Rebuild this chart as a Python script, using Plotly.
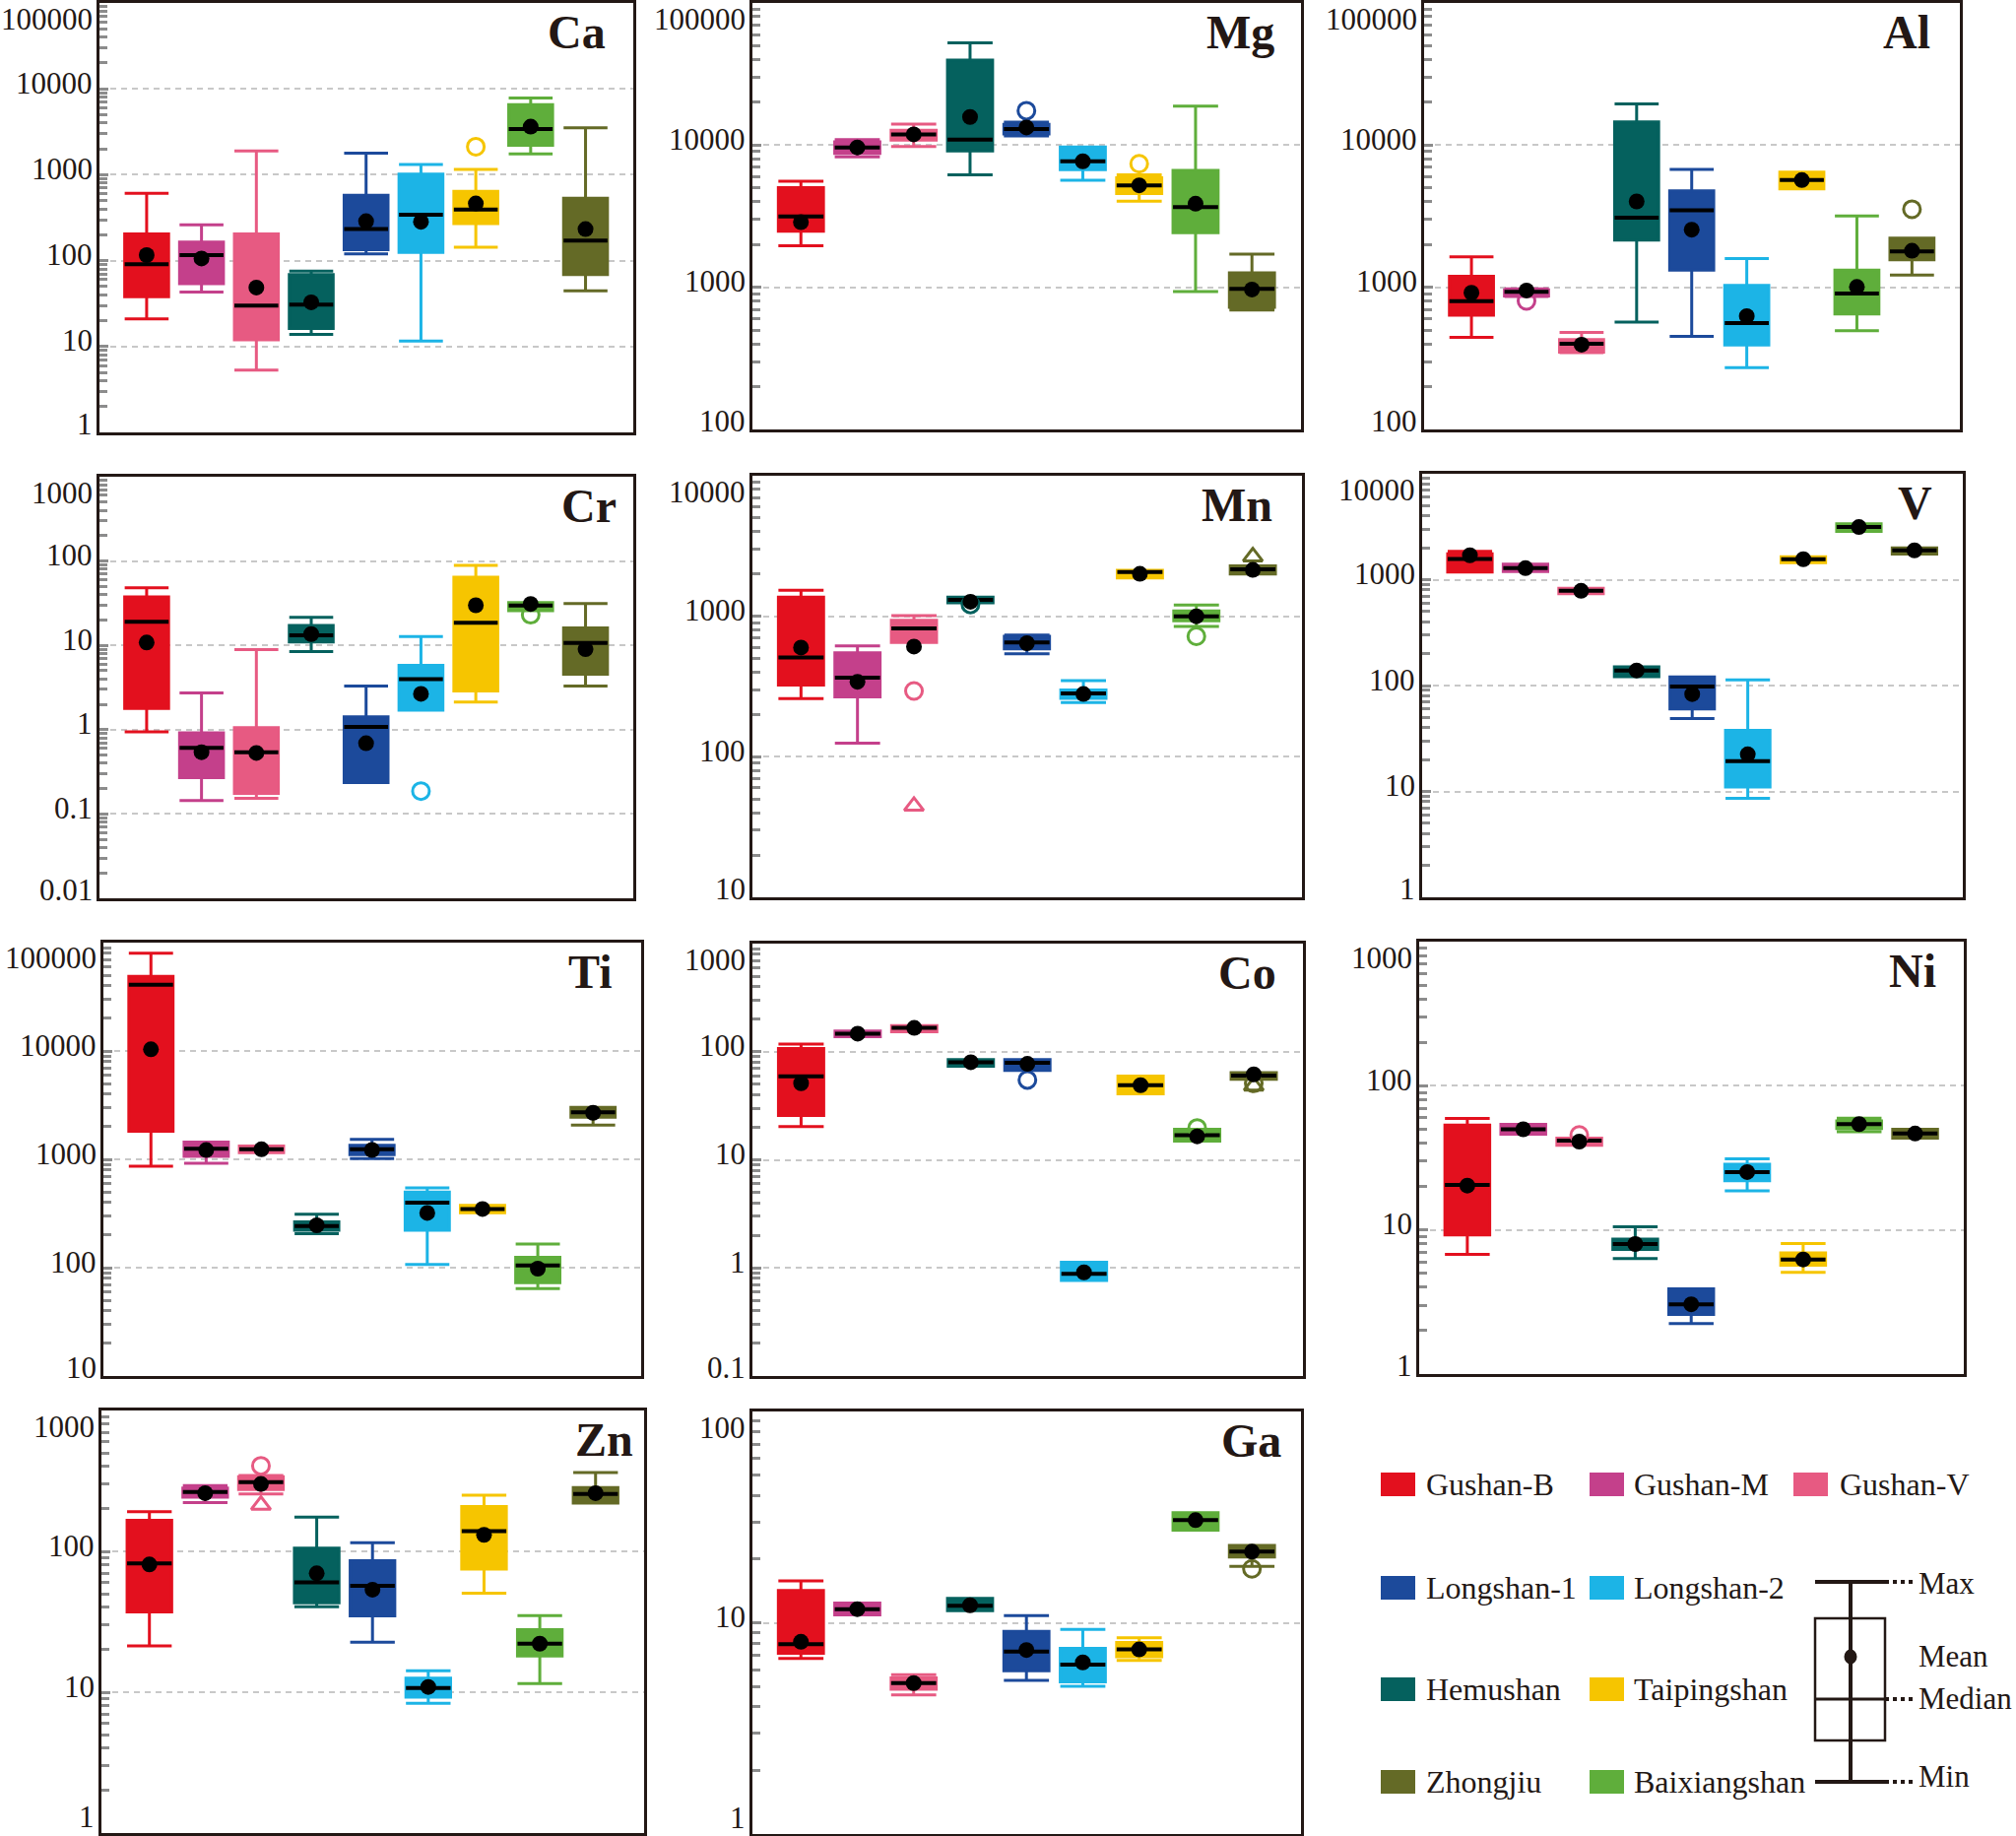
import plotly.graph_objects as go

W, H = 2047, 1864
FONT = "Liberation Serif"
INK = "#231815"

GROUPS = ["Gushan-B", "Gushan-M", "Gushan-V", "Hemushan", "Longshan-1",
          "Longshan-2", "Taipingshan", "Baixiangshan", "Zhongjiu"]
COLORS = ["#E3101E", "#C4408B", "#E75A82", "#05615E", "#1C4A9B",
          "#1CB4E6", "#F6C500", "#5FAE3B", "#646A26"]

# ---- data (min, q1, median, q3, max, mean, outliers) per element ----
CA_MIN = [21, 43, 5.3, 13.8, 120, 11.6, 143, 1750, 44.5]
CA_Q1 = [38, 54, 12, 16.2, 134, 125, 270, 2200, 69]
CA_MED = [91, 116, 30, 30.7, 233, 343, 392, 3415, 171]
CA_Q3 = [204, 164, 204, 69, 577, 1014, 641, 6550, 533]
CA_MAX = [608, 261, 1893, 75.5, 1780, 1320, 1156, 7815, 3508]
CA_MEAN = [116, 106, 48.6, 32.7, 288, 283, 463, 3633, 233]
CA_OUT = [(6, 2120, "circle")]

MG_MIN = [1962, 8260, 9790, 6170, 11600, 5670, 4035, 933, 693]
MG_Q1 = [2477, 8750, 10830, 9090, 12000, 6715, 4560, 2425, 723]
MG_MED = [3145, 9640, 11910, 10940, 13000, 7710, 5210, 3670, 974]
MG_Q3 = [5020, 10550, 12700, 39700, 14000, 9690, 5885, 6650, 1263]
MG_MAX = [5580, 10950, 14040, 52360, 14500, 9690, 6170, 18800, 1709]
MG_MEAN = [2875, 9640, 11900, 15780, 13310, 7700, 5210, 3870, 965]
MG_OUT = [(4, 17460, "circle"), (6, 7390, "circle")]

AL_MIN = [444, 860, 347, 570, 451, 272, 4920, 495, 1220]
AL_Q1 = [637, 870, 350, 2151, 1320, 393, 4920, 650, 1562]
AL_MED = [798, 929, 400, 3090, 3485, 561, 5680, 905, 1790]
AL_Q3 = [1195, 960, 428, 14590, 4775, 1032, 6470, 1320, 2220]
AL_MAX = [1637, 975, 482, 19460, 6750, 1595, 6470, 3170, 2220]
AL_MEAN = [915, 949, 395, 4016, 2543, 627, 5680, 1005, 1808]
AL_OUT = [(1, 802, "circle"), (8, 3540, "circle")]

CR_MIN = [0.94, 0.144, 0.153, 8.46, 0.236, 1.70, 2.12, 25.7, 3.30]
CR_Q1 = [1.79, 0.27, 0.175, 11.0, 0.236, 1.70, 2.88, 25.7, 4.55]
CR_MED = [19.1, 0.61, 0.54, 13.2, 1.08, 3.98, 18.6, 29.7, 10.7]
CR_Q3 = [37.5, 0.92, 1.06, 17.2, 1.42, 5.80, 64.3, 32.2, 16.1]
CR_MAX = [48.2, 2.73, 8.93, 21.5, 3.30, 12.7, 88.7, 32.2, 31.3]
CR_MEAN = [10.8, 0.54, 0.53, 13.6, 0.69, 2.66, 29.9, 31.0, 9.0]
CR_OUT = [(5, 0.187, "circle"), (7, 23.1, "circle")]

MN_MIN = [259, 125, 650, 1247, 541, 243, 1871, 846, 1995]
MN_Q1 = [324, 267, 650, 1247, 586, 261, 1871, 928, 1995]
MN_MED = [510, 365, 819, 1310, 650, 283, 2061, 1000, 2161]
MN_Q3 = [1367, 549, 937, 1367, 720, 299, 2128, 1090, 2281]
MN_MAX = [1531, 615, 1011, 1367, 735, 349, 2128, 1201, 2281]
MN_MEAN = [599, 342, 609, 1268, 643, 280, 2005, 1000, 2137]
MN_OUT = [(2, 294, "circle"), (2, 44.6, "triangle"), (3, 1214, "circle"),
          (7, 720, "circle"), (8, 2654, "triangle")]

V_MIN = [1180, 1196, 735, 121, 48.9, 8.6, 1450, 2862, 1746]
V_Q1 = [1180, 1196, 735, 121, 60.2, 11.0, 1450, 2862, 1746]
V_MED = [1571, 1284, 784, 139, 98, 19.3, 1559, 3140, 1890]
V_Q3 = [1750, 1400, 830, 150, 120.5, 37.8, 1649, 3373, 2000]
V_MAX = [1850, 1400, 830, 150, 120.5, 113, 1649, 3373, 2000]
V_MEAN = [1700, 1284, 784, 139, 83, 22.4, 1559, 3140, 1890]
V_OUT = []

TI_MIN = [862, 919, 1152, 206, 1014, 107, 322, 64, 2074]
TI_Q1 = [1813, 1066, 1152, 221, 1104, 221, 322, 72.7, 2443]
TI_MED = [40900, 1254, 1237, 242, 1237, 398, 348, 105, 2716]
TI_Q3 = [48900, 1445, 1328, 264, 1347, 499, 376, 124.5, 3020]
TI_MAX = [79700, 1445, 1328, 311, 1530, 544, 376, 165, 3020]
TI_MEAN = [10360, 1219, 1237, 246, 1220, 320, 348, 98, 2690]
TI_OUT = []

CO_MIN = [20.3, 138, 153, 73.5, 67.1, 0.766, 40.8, 14.9, 55.6]
CO_Q1 = [25.7, 138, 153, 73.5, 67.1, 0.766, 40.8, 14.9, 55.6]
CO_MED = [59.2, 147, 166, 80, 78.8, 0.88, 49, 16.9, 60]
CO_Q3 = [107, 155, 174, 84.5, 84.5, 1.13, 59.6, 19.2, 63.9]
CO_MAX = [117.5, 155, 174, 84.5, 84.5, 1.13, 59.6, 19.2, 63.9]
CO_MEAN = [51.1, 147, 166, 80, 77.2, 0.91, 49, 16.5, 61.7]
CO_OUT = [(4, 54.8, "circle"), (7, 19.7, "circle"), (8, 51, "circle"),
          (8, 48.3, "triangle")]

NI_MIN = [6.76, 46.1, 38.6, 6.34, 2.24, 18.7, 5.07, 48.0, 43.3]
NI_Q1 = [9.24, 46.1, 38.6, 7.31, 2.59, 21.9, 5.69, 50.5, 43.3]
NI_MED = [20.5, 49.9, 41.7, 7.98, 3.05, 25.2, 6.24, 54.2, 46.6]
NI_Q3 = [53.4, 54, 43.3, 8.63, 3.9, 28.5, 6.93, 57.0, 49.9]
NI_MAX = [59.3, 54, 43.3, 10.5, 3.9, 31.1, 8.03, 59.5, 49.9]
NI_MEAN = [20.3, 49.9, 41, 7.98, 3.05, 25.2, 6.24, 54.2, 46.6]
NI_OUT = [(2, 45.6, "circle")]

ZN_MIN = [21.3, 222, 255, 40.5, 22.6, 8.34, 50.4, 11.5, 220]
ZN_Q1 = [37.1, 242, 275, 43.1, 34.8, 9.23, 74.9, 18.1, 220]
ZN_MED = [82, 264, 310, 60.1, 57, 10.7, 139, 22.1, 255]
ZN_Q3 = [166, 281, 339, 105.5, 85.7, 12.6, 208, 27.8, 284]
ZN_MAX = [191, 293, 345, 175, 115, 14.2, 250, 35, 363]
ZN_MEAN = [80.7, 259, 301, 69.8, 53.4, 10.9, 131, 22.1, 259]
ZN_OUT = [(2, 405, "circle"), (2, 213, "triangle")]

GA_MIN = [6.77, 10.9, 4.55, 11.4, 5.33, 5.0, 6.63, 27.4, 18.5]
GA_Q1 = [7.17, 10.9, 4.84, 11.4, 5.93, 5.25, 6.91, 27.4, 20.5]
GA_MED = [7.92, 11.6, 5.18, 12.04, 7.30, 6.33, 7.48, 30.6, 21.7]
GA_Q3 = [14.2, 12.4, 5.48, 13.03, 9.11, 7.56, 8.07, 33.2, 23.2]
GA_MAX = [15.8, 12.4, 5.68, 13.03, 10.8, 9.31, 8.48, 33.2, 23.2]
GA_MEAN = [8.13, 11.6, 5.18, 12.1, 7.43, 6.49, 7.48, 30.6, 21.7]
GA_OUT = [(8, 18.0, "circle")]

ELEMENTS = ["Ca", "Mg", "Al", "Cr", "Mn", "V", "Ti", "Co", "Ni", "Zn", "Ga"]
STATS = {
    "Ca": (CA_MIN, CA_Q1, CA_MED, CA_Q3, CA_MAX, CA_MEAN, CA_OUT),
    "Mg": (MG_MIN, MG_Q1, MG_MED, MG_Q3, MG_MAX, MG_MEAN, MG_OUT),
    "Al": (AL_MIN, AL_Q1, AL_MED, AL_Q3, AL_MAX, AL_MEAN, AL_OUT),
    "Cr": (CR_MIN, CR_Q1, CR_MED, CR_Q3, CR_MAX, CR_MEAN, CR_OUT),
    "Mn": (MN_MIN, MN_Q1, MN_MED, MN_Q3, MN_MAX, MN_MEAN, MN_OUT),
    "V": (V_MIN, V_Q1, V_MED, V_Q3, V_MAX, V_MEAN, V_OUT),
    "Ti": (TI_MIN, TI_Q1, TI_MED, TI_Q3, TI_MAX, TI_MEAN, TI_OUT),
    "Co": (CO_MIN, CO_Q1, CO_MED, CO_Q3, CO_MAX, CO_MEAN, CO_OUT),
    "Ni": (NI_MIN, NI_Q1, NI_MED, NI_Q3, NI_MAX, NI_MEAN, NI_OUT),
    "Zn": (ZN_MIN, ZN_Q1, ZN_MED, ZN_Q3, ZN_MAX, ZN_MEAN, ZN_OUT),
    "Ga": (GA_MIN, GA_Q1, GA_MED, GA_Q3, GA_MAX, GA_MEAN, GA_OUT),
}
# y-axis decade exponents (bottom, top)
Y_DECADES = {"Ca": (0, 5), "Mg": (2, 5), "Al": (2, 5), "Cr": (-2, 3),
             "Mn": (1, 4), "V": (0, 4), "Ti": (1, 5), "Co": (-1, 3),
             "Ni": (0, 3), "Zn": (0, 3), "Ga": (0, 2)}

# ---- layout (pixel frames: left, right, top, bottom) ----
FRAMES = {"Ca": (101, 643, 3, 439), "Mg": (764, 1321, 3, 436),
          "Al": (1446, 1990, 3, 436), "Cr": (101, 643, 484, 912),
          "Mn": (764, 1322, 483, 911), "V": (1444, 1993, 481, 911),
          "Ti": (105, 651, 957, 1397), "Co": (764, 1323, 958, 1397),
          "Ni": (1441, 1994, 956, 1395), "Zn": (103, 654, 1432, 1861),
          "Ga": (764, 1321, 1433, 1862)}
TITLE_PAD = {"Ca": 26, "Mg": 25, "Al": 28, "Cr": 15, "Mn": 28, "V": 29,
             "Ti": 28, "Co": 25, "Ni": 26, "Zn": 9, "Ga": 18}
BOX_W = 0.8
X_RANGE = [0.14, 9.87]
GRID = "#c8c8c8"
TICKC = "#8c8c8c"
LABEL_GAP = 6        # px between frame and tick label
SHIFT_MID, SHIFT_TOP, SHIFT_BOT = 6, -16, 9


def fx(p):
    return p / W


def fy(p):
    return 1 - p / H


def fmt(e):
    return str(10 ** e) if e >= 0 else ("0." + "0" * (-e - 1) + "1")


fig = go.Figure()
layout = {}
annotations = []
shapes = []
positions = list(range(1, len(GROUPS) + 1))

for k, el in enumerate(ELEMENTS):
    n = "" if k == 0 else str(k + 1)
    xa, ya = "x" + n, "y" + n
    l, r, t, b = FRAMES[el]
    mn, q1, md, q3, mx, mean, outs = STATS[el]
    for i, g in enumerate(GROUPS):
        fig.add_trace(go.Box(
            x=[positions[i]], q1=[q1[i]], median=[md[i]], q3=[q3[i]],
            lowerfence=[mn[i]], upperfence=[mx[i]], width=BOX_W,
            whiskerwidth=1, fillcolor=COLORS[i],
            line=dict(color=COLORS[i], width=3), boxpoints=False,
            xaxis=xa, yaxis=ya, showlegend=False, hoverinfo="skip"))
    segx, segy = [], []
    for i in range(len(GROUPS)):
        segx += [positions[i] - BOX_W / 2, positions[i] + BOX_W / 2, None]
        segy += [md[i], md[i], None]
    fig.add_trace(go.Scatter(x=segx, y=segy, mode="lines",
                             line=dict(color="black", width=4),
                             xaxis=xa, yaxis=ya, showlegend=False,
                             hoverinfo="skip"))
    for gi, v, sym in outs:
        symbol = "circle-open" if sym == "circle" else "triangle-up-open"
        fig.add_trace(go.Scatter(
            x=[positions[gi]], y=[v], mode="markers",
            marker=dict(symbol=symbol, size=17, color=COLORS[gi],
                        line=dict(color=COLORS[gi], width=3)),
            xaxis=xa, yaxis=ya, showlegend=False, hoverinfo="skip"))
    fig.add_trace(go.Scatter(x=positions, y=mean, mode="markers",
                             marker=dict(color="black", size=16),
                             xaxis=xa, yaxis=ya, showlegend=False,
                             hoverinfo="skip"))

    d0, d1 = Y_DECADES[el]
    major = [10 ** e for e in range(d0, d1 + 1)]
    minor = [m * 10 ** e for e in range(d0, d1) for m in range(2, 10)]
    layout["xaxis" + n] = dict(
        domain=[fx(l), fx(r)], anchor=ya, range=X_RANGE,
        showticklabels=False, ticks="", showgrid=False, zeroline=False,
        showline=True, mirror=True, linecolor=INK, linewidth=3)
    layout["yaxis" + n] = dict(
        domain=[fy(b), fy(t)], anchor=xa, type="log",
        range=[d0, d1], tickmode="array", tickvals=major,
        showticklabels=False,
        ticks="inside", ticklen=9, tickwidth=3, tickcolor=TICKC,
        minor=dict(tickmode="array", tickvals=minor, ticks="inside",
                   ticklen=8, tickwidth=3, tickcolor=TICKC, showgrid=False),
        showgrid=True, gridcolor=GRID, gridwidth=2, griddash="6px,5px",
        zeroline=False, showline=True, mirror=True, linecolor=INK,
        linewidth=3)
    # decade tick labels placed on the log axis scale
    bot_shift = 17 if b > H - 20 else SHIFT_BOT
    for e in range(d0, d1 + 1):
        ys = SHIFT_TOP if e == d1 else (bot_shift if e == d0 else SHIFT_MID)
        annotations.append(dict(
            text=fmt(e), xref=xa + " domain", yref=ya, x=0, y=e,
            xanchor="right", yanchor="middle", showarrow=False,
            xshift=-LABEL_GAP, yshift=ys, borderpad=0,
            font=dict(family=FONT, size=31, color=INK)))
    annotations.append(dict(
        text="<b>%s</b>" % el, xref=xa + " domain", yref=ya + " domain",
        x=1, y=1, xanchor="right", yanchor="top", showarrow=False,
        xshift=-TITLE_PAD[el], yshift=-1,
        font=dict(family=FONT, size=48, color=INK)))

# ---- custom legend ----
LEG_ITEMS = [(0, 0, 0), (1, 1, 0), (2, 2, 0), (4, 0, 1), (5, 1, 1),
             (3, 0, 2), (6, 1, 2), (8, 0, 3), (7, 1, 3)]
SQ_X = [1402, 1614, 1821]
TXT_X = [1446, 1657, 1866]
ROW_Y = [1507, 1612, 1715, 1809]
for gi, c, rw in LEG_ITEMS:
    yc = ROW_Y[rw]
    shapes.append(dict(type="rect", xref="paper", yref="paper",
                       x0=fx(SQ_X[c]), x1=fx(SQ_X[c] + 35),
                       y0=fy(yc + 12), y1=fy(yc - 12),
                       fillcolor=COLORS[gi], line=dict(width=0)))
    annotations.append(dict(text=GROUPS[gi], xref="paper", yref="paper",
                            x=fx(TXT_X[c]), y=fy(yc), xanchor="left",
                            yanchor="middle", showarrow=False,
                            font=dict(family=FONT, size=32, color=INK)))

# box explanation diagram
cx, bl, br = 1879, 1843, 1914
y_max, y_q3, y_mean, y_med, y_q1, y_min = 1606, 1643, 1682, 1725, 1767, 1809


def seg(x0, y0, x1, y1, w, dash="solid"):
    shapes.append(dict(type="line", xref="paper", yref="paper",
                       x0=fx(x0), y0=fy(y0), x1=fx(x1), y1=fy(y1),
                       line=dict(color=INK, width=w, dash=dash)))


seg(cx, y_max, cx, y_min, 4)
seg(bl, y_max, br, y_max, 4)
seg(bl, y_min, br, y_min, 4)
shapes.append(dict(type="rect", xref="paper", yref="paper",
                   x0=fx(bl), x1=fx(br), y0=fy(y_q1), y1=fy(y_q3),
                   line=dict(color=INK, width=2.5), fillcolor="rgba(0,0,0,0)"))
seg(bl, y_med, br, y_med, 3)
for yy in (y_max, y_med, y_min):
    seg(br, yy, 1942, yy, 4, "dot")
shapes.append(dict(type="circle", xref="paper", yref="paper",
                   x0=fx(cx - 6.5), x1=fx(cx + 6.5),
                   y0=fy(y_mean + 7.5), y1=fy(y_mean - 7.5),
                   fillcolor=INK, line=dict(width=0)))
for txt, yy in (("Max", 1607), ("Mean", 1681), ("Median", 1724), ("Min", 1803)):
    annotations.append(dict(text=txt, xref="paper", yref="paper",
                            x=fx(1946), y=fy(yy), xanchor="left",
                            yanchor="middle", showarrow=False,
                            font=dict(family=FONT, size=31, color=INK)))

fig.update_layout(
    width=W, height=H, margin=dict(l=0, r=0, t=0, b=0),
    paper_bgcolor="white", plot_bgcolor="white", showlegend=False,
    annotations=annotations, shapes=shapes, **layout)

fig.write_html(
    "out.html",
    config={"displayModeBar": False},
    post_script="document.body.style.margin='0px';"
                "document.body.style.overflow='hidden';")
